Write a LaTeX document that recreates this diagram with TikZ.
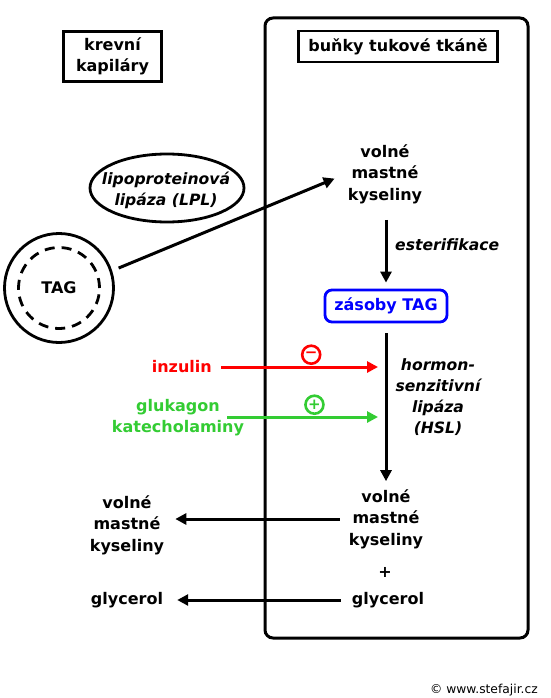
\documentclass[tikz,border=0pt]{standalone}
\usepackage{fontspec}
\setmainfont{DejaVu Sans}
\usetikzlibrary{shapes.geometric,arrows.meta,positioning}
\definecolor{stefred}{RGB}{255,0,0}
\definecolor{stefgreen}{RGB}{51,204,51}
\definecolor{stefblue}{RGB}{0,0,255}

\begin{document}
\begin{tikzpicture}[x=1pt, y=-1pt,
    txt/.style={font=\bfseries\fontsize{16}{21.5}\selectfont, align=center, inner sep=2pt},
    itxt/.style={txt, font=\bfseries\itshape\fontsize{15.6}{21}\selectfont},
    box/.style={txt, draw, line width=2.8pt, inner xsep=6pt, inner ysep=4pt},
    arr/.style={-{Triangle[length=11pt,width=11pt]}, line width=3pt},
    signcirc/.style={circle, draw, line width=2.6pt, inner sep=0pt, minimum size=18pt, font=\bfseries\fontsize{15}{15}\selectfont}
]
    \useasboundingbox (0,0) rectangle (550,698);

    % Cell of the adipose tissue
    \draw[line width=3pt, rounded corners=8pt] (265,18) rectangle (528,638);

    % Titles
    \node[box, minimum width=98pt, minimum height=50pt] (kap) at (112.5,56.5) {krevní\\kapiláry};
    \node[box, minimum width=199pt, minimum height=31pt] (cell) at (398,46.5) {buňky tukové tkáně};

    % Lipoprotein lipase and TAG particle
    \node[itxt] (lpl) at (166,190) {lipoproteinová\\lipáza (LPL)};
    \draw[line width=2.8pt] (167,188) ellipse [x radius=77, y radius=34];
    \node[circle, draw, line width=2.8pt, minimum size=109pt] (tagout) at (59,288) {};
    \node[txt, circle, draw, dash pattern=on 10pt off 7pt, line width=2.8pt, minimum size=81pt] (tag) at (59,288) {TAG};

    % Inside the cell
    \node[txt] (vmk1) at (385,174) {volné\\mastné\\kyseliny};
    \node[itxt, anchor=west] (ester) at (393,245) {esterifikace};
    \node[box, draw=stefblue, text=stefblue, rounded corners=7pt, minimum width=122pt, minimum height=32pt] (zas) at (386,306) {zásoby TAG};
    \node[itxt, font=\bfseries\itshape\fontsize{15.6}{21}\selectfont] (hsl) at (438,397) {hormon-\\senzitivní\\lipáza\\(HSL)};
    \node[txt] (vmk2) at (386,519) {volné\\mastné\\kyseliny};
    \node[txt] (plus) at (385,572) {+};
    \node[txt] (gly2) at (388,600) {glycerol};

    % Hormones
    \node[txt, text=stefred, anchor=east] (inz) at (214,367) {inzulin};
    \node[txt, text=stefgreen, font=\bfseries\fontsize{16}{21}\selectfont] (glu) at (178,418) {glukagon\\katecholaminy};
    \coordinate (glustart) at (227,417);

    % Released into the blood
    \node[txt] (vmkL) at (127,525) {volné\\mastné\\kyseliny};
    \node[txt] (glyL) at (127,600) {glycerol};

    % Connectors
    \draw[arr, shorten <=7pt, shorten >=12pt] (tagout.18) -- (vmk1.west);
    \draw[arr, shorten <=14pt, shorten >=6pt] (zas.north |- vmk1.south) -- (zas.north);
    \draw[arr, shorten <=10pt, shorten >=6pt] (zas.south) -- (zas.south |- vmk2.north);
    \draw[arr, stefred, shorten <=7pt, shorten >=8pt] (inz.east) -- (inz.east -| zas.south)
        node[signcirc, pos=0.565, above=2pt] {−};
    \draw[arr, stefgreen, shorten >=8pt] (glustart) -- (glustart -| zas.south)
        node[signcirc, pos=0.55, above=2pt] {+};
    \draw[arr, shorten <=7pt, shorten >=9pt] (vmk2.west) -- (vmk2.west -| vmkL.east);
    \draw[arr, shorten <=9pt, shorten >=12pt] (gly2.west) -- (glyL.east);

    \node[font=\fontsize{12.3}{14}\selectfont, anchor=east, inner sep=0pt] (copy) at (538,690) {© www.stefajir.cz};
\end{tikzpicture}
\end{document}
